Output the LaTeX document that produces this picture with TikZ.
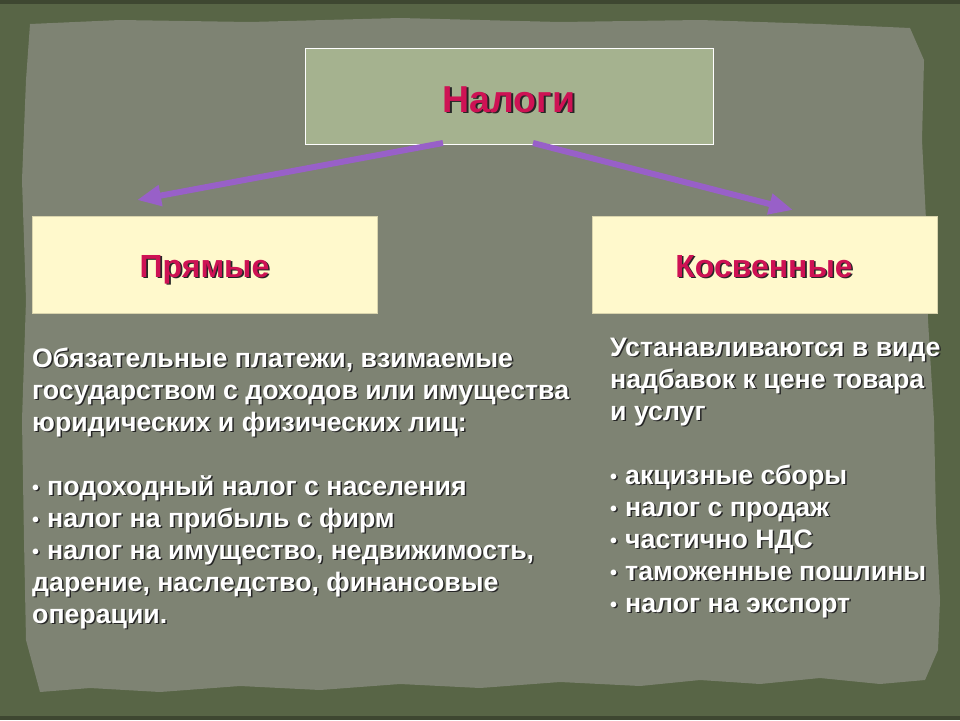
\documentclass[tikz,border=0pt]{standalone}
\usepackage{fontspec}
\setmainfont{Liberation Sans}
\usetikzlibrary{arrows.meta,calc}
\definecolor{outerc}{RGB}{88,101,70}
\definecolor{panelc}{RGB}{126,131,115}
\definecolor{topfill}{RGB}{165,178,143}
\definecolor{lowfill}{RGB}{255,249,204}
\definecolor{redt}{RGB}{206,18,84}
\definecolor{arrowc}{RGB}{152,96,200}
\newcommand{\smbul}{{\fontsize{20}{20}\selectfont\raisebox{1pt}{•}}\hspace{8pt}}
\tikzset{
  topbox/.style={draw=white, line width=1pt, fill=topfill, minimum width=408pt, minimum height=96pt, inner sep=0pt},
  lowbox/.style={draw=lowfill!85!black, line width=0.6pt, fill=lowfill, minimum width=345pt, minimum height=97pt, inner sep=0pt},
  bigarrow/.style={arrowc, line width=6pt, -{Triangle[length=24pt,width=20pt]}},
  bodyfont/.style={font=\fontsize{26.7}{30}\selectfont\bfseries, inner sep=0pt, anchor=base west},
  titlefont/.style={font=\fontsize{37.5}{42}\selectfont\bfseries, inner sep=0pt, anchor=base},
  subfont/.style={font=\fontsize{32}{36}\selectfont\bfseries, inner sep=0pt, anchor=base},
}
\begin{document}
\begin{tikzpicture}[x=1pt,y=-1pt]
\useasboundingbox (0,0) rectangle (960,720);
% background
\fill[outerc] (0,0) rectangle (960,720);
\fill[outerc!70!black] (0,0) rectangle (960,4);
\fill[outerc!70!black] (0,716) rectangle (960,720);
\fill[panelc] (30,24) -- (120,20) -- (250,22) -- (400,18) -- (560,22) -- (700,20) -- (820,24) -- (910,28)
  -- (924,60) -- (922,140) -- (926,220) -- (928,320) -- (934,420) -- (936,520) -- (940,600) -- (938,650)
  -- (925,680) -- (880,684) -- (820,678) -- (760,684) -- (700,680) -- (640,686) -- (560,682) -- (480,688)
  -- (400,684) -- (320,690) -- (240,686) -- (160,692) -- (90,688) -- (40,692)
  -- (26,640) -- (24,540) -- (22,420) -- (26,300) -- (22,180) -- (26,80) -- cycle;
% boxes
\node[topbox] (top) at (509,96) {};
\node[lowbox] (left) at (204.5,264.5) {};
\node[lowbox] (right) at (764.5,264.5) {};
% box labels with shadow
\node[titlefont, text=black!85] at (510.8,113.8) {Налоги};
\node[titlefont, text=redt] (toplbl) at (509,112) {Налоги};
\node[subfont, text=black!85] at (206.1,278.6) {Прямые};
\node[subfont, text=redt] (leftlbl) at (204.5,277) {Прямые};
\node[subfont, text=black!85] at (765.6,278.6) {Косвенные};
\node[subfont, text=redt] (rightlbl) at (764,277) {Косвенные};
% arrows
\coordinate (s1) at (443,143);
\coordinate (t1) at (137,200);
\coordinate (s2) at (533,143);
\coordinate (t2) at (793,210);
\draw[bigarrow] (s1) -- (t1);
\draw[bigarrow] (s2) -- (t2);
% left text
\foreach \y/\t [count=\i] in {367/{Обязательные платежи, взимаемые},
  399/{государством с доходов или имущества},
  431/{юридических и физических лиц:},
  495/{\smbul подоходный налог с населения},
  527/{\smbul налог на прибыль с фирм},
  559/{\smbul налог на имущество, недвижимость,},
  591/{дарение, наследство, финансовые},
  623/{операции.}} {
  \node[bodyfont, text=black!85] at (33.5,\y+1.5) {\t};
  \node[bodyfont, text=white] (L\i) at (32,\y) {\t};
}
% right text
\foreach \y/\t [count=\i] in {356/{Устанавливаются в виде},
  388/{надбавок к цене товара},
  420/{и услуг},
  484/{\smbul акцизные сборы},
  516/{\smbul налог с продаж},
  548/{\smbul частично НДС},
  580/{\smbul таможенные пошлины},
  612/{\smbul налог на экспорт}} {
  \node[bodyfont, text=black!85] at (611.5,\y+1.5) {\t};
  \node[bodyfont, text=white] (R\i) at (610,\y) {\t};
}
\end{tikzpicture}
\end{document}
